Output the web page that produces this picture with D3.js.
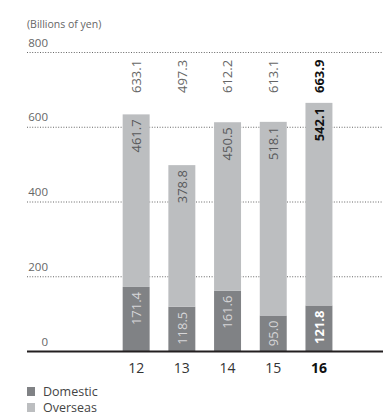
<!DOCTYPE html>
<html>
<head>
<meta charset="utf-8">
<script src="https://cdn.jsdelivr.net/npm/d3@7"></script>
<style>
  html, body { margin: 0; padding: 0; background: #fff; }
  svg { display: block; font-family: "Open Sans", "DejaVu Sans", sans-serif; }
</style>
</head>
<body>
<svg id="chart" width="383" height="415"></svg>
<script>
// Net sales by region, billions of yen, fiscal years 12–16
const years = ["12", "13", "14", "15", "16"];
const domestic = [171.4, 118.5, 161.6, 95.0, 121.8];
const overseas = [461.7, 378.8, 450.5, 518.1, 542.1];
const totals = [633.1, 497.3, 612.2, 613.1, 663.9];
const yTicks = [0, 200, 400, 600, 800];
const highlightYear = "16";
const unitLabel = "(Billions of yen)";
const legendItems = ["Domestic", "Overseas"];

const colDomestic = "#808285";
const colOverseas = "#bcbec0";

const svg = d3.select("#chart");

const y = d3.scaleLinear().domain([0, 800]).range([351, 52]);
const x = d3.scaleBand().domain(years)
  .range([113.3, 113.3 + 5 * 45.7])
  .paddingInner(0.41).paddingOuter(0.205);

const left = 27, right = 383;

// unit caption
svg.append("text").attr("x", left).attr("y", 28)
  .attr("font-size", 10.5).attr("fill", "#666").text(unitLabel);

// dotted gridlines (except baseline)
const yAxis = d3.axisLeft(y).tickValues(yTicks)
  .tickSize(-(right - left)).tickFormat(d3.format("d"));
const gAxis = svg.append("g").attr("transform", `translate(${left},0)`).call(yAxis);
gAxis.select(".domain").remove();
gAxis.selectAll(".tick line")
  .attr("stroke", "#666").attr("stroke-width", 1)
  .attr("stroke-dasharray", "1,1.6")
  .attr("opacity", d => d === 0 ? 0 : 1);
gAxis.selectAll(".tick text")
  .attr("x", 21).attr("dy", null).attr("y", -6)
  .attr("text-anchor", "end")
  .attr("font-size", 11.5).attr("fill", "#666")
  .attr("font-family", "\"Open Sans\", sans-serif");

const data = years.map((yr, i) => ({
  year: yr, dom: domestic[i], ovs: overseas[i], tot: totals[i]
}));

// stacked bars
const bars = svg.append("g");
bars.selectAll("rect.dom").data(data).join("rect")
  .attr("x", d => x(d.year)).attr("width", x.bandwidth())
  .attr("y", d => y(d.dom)).attr("height", d => y(0) - y(d.dom))
  .attr("fill", colDomestic);
bars.selectAll("rect.ovs").data(data).join("rect")
  .attr("x", d => x(d.year)).attr("width", x.bandwidth())
  .attr("y", d => y(d.dom + d.ovs)).attr("height", d => y(d.dom) - y(d.dom + d.ovs))
  .attr("fill", colOverseas);

// baseline
svg.append("line").attr("x1", left).attr("x2", right)
  .attr("y1", y(0) + 0.5).attr("y2", y(0) + 0.5)
  .attr("stroke", "#231f20").attr("stroke-width", 2);

const fmt = d3.format(".1f");
const cx = d => x(d.year) + x.bandwidth() / 2;
const isHi = d => d.year === highlightYear;

function vlabel(sel, yPos, anchor, color, hiColor) {
  sel.attr("transform", d => `translate(${cx(d)},${yPos(d)}) rotate(-90)`)
    .attr("dy", "0.36em")
    .attr("text-anchor", anchor)
    .attr("font-size", 13)
    .attr("font-weight", d => isHi(d) ? 700 : 400)
    .attr("fill", d => isHi(d) ? hiColor : color);
}

// total labels above bars
svg.append("g").selectAll("text").data(data).join("text")
  .text(d => fmt(d.tot))
  .call(vlabel, d => 93, "start", "#666", "#111");

// overseas labels inside light segment
svg.append("g").selectAll("text").data(data).join("text")
  .text(d => fmt(d.ovs))
  .call(vlabel, d => y(d.dom + d.ovs) + 5, "end", "#58595b", "#111");

// domestic labels inside dark segment
svg.append("g").selectAll("text").data(data).join("text")
  .text(d => fmt(d.dom))
  .call(vlabel, d => y(d.dom) + 5, "end", "#d6d6d8", "#ffffff");

// year labels
svg.append("g").selectAll("text").data(data).join("text")
  .attr("x", cx).attr("y", 373)
  .attr("text-anchor", "middle")
  .attr("font-size", 14)
  .attr("font-weight", d => isHi(d) ? 700 : 400)
  .attr("fill", d => isHi(d) ? "#111" : "#333")
  .text(d => d.year);

// legend
const legend = svg.append("g");
legendItems.forEach((name, i) => {
  const ly = 387 + i * 16;
  legend.append("rect").attr("x", left).attr("y", ly)
    .attr("width", 8).attr("height", 9)
    .attr("fill", i === 0 ? colDomestic : colOverseas);
  legend.append("text").attr("x", 43).attr("y", ly + 9)
    .attr("font-size", 12.5).attr("fill", "#444").text(name);
});
</script>
</body>
</html>
